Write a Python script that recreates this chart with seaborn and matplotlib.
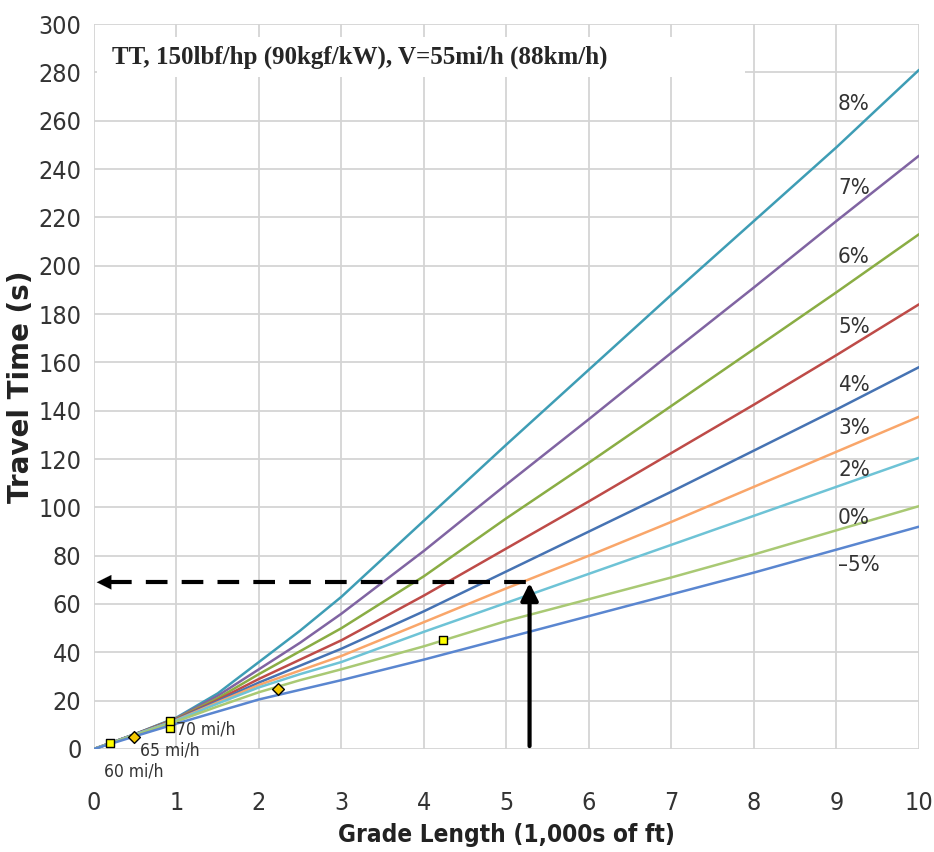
import numpy as np
import pandas as pd
import matplotlib
matplotlib.use("Agg")
import matplotlib.pyplot as plt
import seaborn as sns

# grade length (1,000s of ft)
length = [0, 0.5, 1, 1.5, 2, 2.5, 3, 4, 5, 6, 7, 8, 9, 10]

# travel time (s) per grade
grades = ["8%", "7%", "6%", "5%", "4%", "3%", "2%", "0%", "\u20135%"]
t_8 = [0, 6.2, 13, 23, 36, 49, 63, 94.5, 126, 157, 188, 218.5, 249, 281]
t_7 = [0, 6.2, 12.8, 22, 33, 44, 56, 82, 109.5, 136.5, 164, 191, 218.5, 245.5]
t_6 = [0, 6.1, 12.6, 21, 31, 40.5, 50, 71.5, 95.5, 118.5, 142, 165.5, 189, 213]
t_5 = [0, 6.1, 12.4, 20.3, 29, 37, 45, 63.5, 83, 102.5, 122.5, 142.5, 163, 184]
t_4 = [0, 6.1, 12.2, 19.8, 27.5, 34.5, 41.5, 57, 73.5, 90, 106.5, 123.5, 140.5, 158]
t_3 = [0, 6, 12, 19.3, 26.5, 32.5, 38.5, 52.5, 66.5, 80, 94, 108.5, 123, 137.5]
t_2 = [0, 6, 11.8, 18.8, 25.5, 31, 36, 48.5, 60.5, 72.5, 84.5, 96.5, 108.5, 120.5]
t_0 = [0, 5.8, 11.4, 17.6, 23.5, 28.5, 33, 42.5, 53, 62, 71, 80.5, 90.5, 100.5]
t_m5 = [0, 5.3, 10.5, 15.5, 20.5, 24.5, 28.5, 37, 46, 55, 64, 73, 82.5, 92]
colors = ["#3e9db5", "#8064a2", "#8aad44", "#be4b48", "#4673b3",
          "#f9a66a", "#6ec3d6", "#a9c974", "#5a86d0"]

# grade label positions (right side)
label_y = [267, 232, 203.5, 174.6, 150.6, 132.8, 115.4, 95.6, 76]

# speed markers
sq_x = [0.2, 0.92, 0.92, 4.23]
sq_y = [2.3, 8.7, 11.5, 45.1]
dm_x = [0.48, 2.23]
dm_y = [4.9, 25.0]
speed_labels = ["60 mi/h", "65 mi/h", "70 mi/h"]
speed_pos = [(0.12, -9.5), (0.56, -0.5), (0.99, 8.0)]

# example reading
ex_len = 5.28
ex_time = 69

rows = []
for g, vals in zip(grades, [t_8, t_7, t_6, t_5, t_4, t_3, t_2, t_0, t_m5]):
    for x, y in zip(length, vals):
        rows.append({"length": x, "time": y, "grade": g})
df = pd.DataFrame(rows)

sns.set_style("whitegrid")
plt.rcParams["font.family"] = ["DejaVu Sans"]
plt.rcParams["font.stretch"] = "condensed"

fig = plt.figure(figsize=(9.34, 8.52), dpi=100)
ax = fig.add_axes([0.1006, 0.1209, 0.8833, 0.8509])

sns.lineplot(data=df, x="length", y="time", hue="grade", palette=colors,
             linewidth=1.8, legend=False, ax=ax, zorder=3)

ax.set_xlim(0, 10)
ax.set_ylim(0, 300)
ax.set_xticks(range(0, 11))
ax.set_yticks(range(0, 301, 20))
ax.grid(True, color="#d4d4d4", linewidth=1.3)
for s in ax.spines.values():
    s.set_visible(False)
ax.tick_params(axis="both", length=0, labelsize=18, colors="#333333")
ax.tick_params(axis="x", pad=30)
ax.tick_params(axis="y", pad=9)

ax.set_xlabel("Grade Length (1,000s of ft)", fontsize=17.5, fontweight="bold",
              color="#222222", labelpad=6)
ax.set_ylabel("Travel Time (s)", fontsize=20, fontweight="bold",
              fontstretch="normal", color="#222222")
ax.yaxis.set_label_coords(-0.071, 0.5)

for g, y in zip(grades, label_y):
    ax.text(9.02, y, g, fontsize=16, color="#333333", va="center", ha="left")

# title box
ax.add_patch(plt.Rectangle((0.04, 278), 7.85, 16.5, facecolor="white",
                           edgecolor="none", zorder=2.5))
ax.text(0.22, 286.3, "TT, 150lbf/hp (90kgf/kW), V=55mi/h (88km/h)",
        family="Liberation Serif", fontweight="bold", fontsize=18,
        va="center", ha="left", zorder=4)

# example arrows
ax.plot([0.2, ex_len], [ex_time, ex_time], color="black", linewidth=3,
        dashes=(5.2, 3.4), zorder=5, clip_on=False)
ax.annotate("", xy=(0, ex_time), xytext=(0.3, ex_time),
            arrowprops=dict(arrowstyle="-|>", color="black", lw=0.1,
                            mutation_scale=26), zorder=5)
ax.annotate("", xy=(ex_len, ex_time - 0.3), xytext=(ex_len, 1.2),
            arrowprops=dict(arrowstyle="-|>", color="black", lw=3,
                            mutation_scale=26, shrinkA=0, shrinkB=0), zorder=5)

# speed markers
sns.scatterplot(x=sq_x, y=sq_y, marker="s", s=38, color="#ffff00",
                edgecolor="black", linewidth=1, ax=ax, zorder=6)
sns.scatterplot(x=dm_x, y=dm_y, marker="D", s=36, color="#f2c700",
                edgecolor="black", linewidth=1, ax=ax, zorder=6)
for txt, (x, y) in zip(speed_labels, speed_pos):
    ax.text(x, y, txt, fontsize=12.5, color="#333333", va="center", ha="left",
            zorder=6, clip_on=False)

fig.savefig("out.png", dpi=100)
